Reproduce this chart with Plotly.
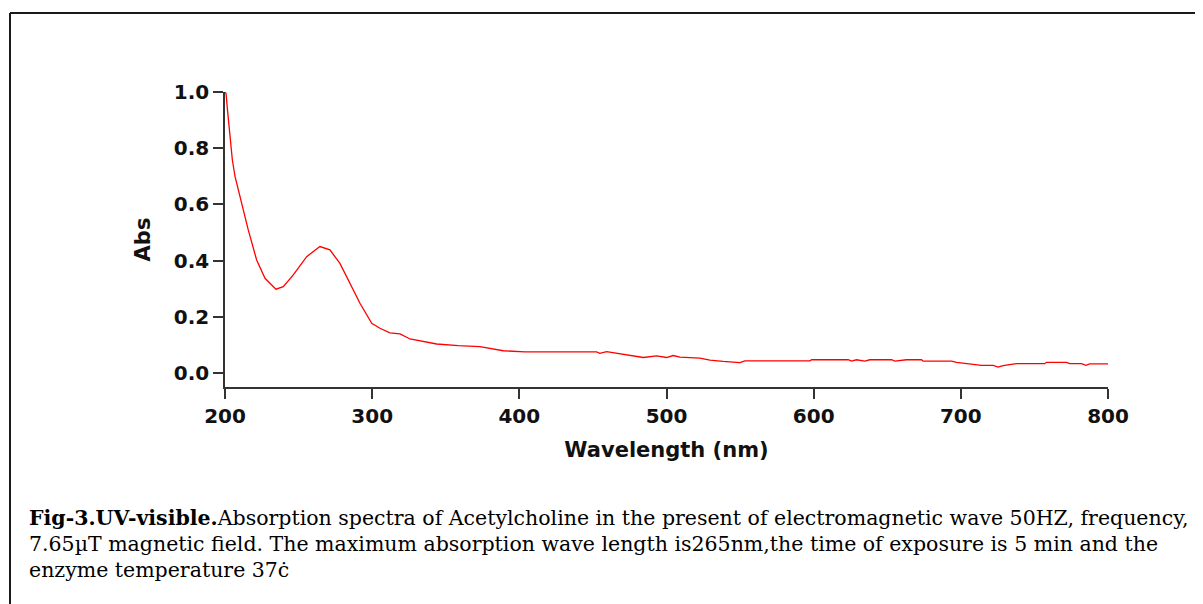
import plotly.graph_objects as go

wavelength = [200, 200.7, 201.8, 203.4, 205, 206.8, 210.2, 215.8, 221.5, 227.2, 234.6, 239.6,
              246.4, 255.5, 264.5, 271.3, 278.1, 284.9, 291.7, 299.7, 305.3, 312, 318.9, 325.7,
              334.7, 343.8, 358.5, 373.2, 389.1, 403.8, 452.5, 454.7, 459.3, 468.3, 475.1,
              484.2, 493.3, 500, 504.6, 509.1, 522.7, 529.5, 538.5, 549.9, 553.3, 577, 597.4,
              598.6, 623.5, 625.7, 629.1, 634.8, 638.2, 652.9, 655.2, 663.1, 673.3, 674.4,
              693.7, 697.1, 703.8, 714, 722, 725.3, 728.7, 737.8, 757, 758.2, 771.8, 774,
              782, 785, 787.6, 800]
absorbance = [1.0, 0.995, 0.93, 0.835, 0.758, 0.70, 0.627, 0.509, 0.402, 0.337, 0.298, 0.307,
              0.349, 0.414, 0.45, 0.438, 0.39, 0.319, 0.248, 0.177, 0.159, 0.143, 0.139, 0.121,
              0.111, 0.103, 0.097, 0.094, 0.079, 0.075, 0.075, 0.07, 0.076, 0.068, 0.061,
              0.055, 0.061, 0.055, 0.062, 0.056, 0.053, 0.046, 0.041, 0.037, 0.043, 0.043, 0.043,
              0.047, 0.047, 0.042, 0.047, 0.042, 0.047, 0.047, 0.042, 0.047, 0.047, 0.042,
              0.042, 0.038, 0.033, 0.027, 0.027, 0.021, 0.026, 0.033, 0.033, 0.038, 0.038, 0.033,
              0.033, 0.027, 0.032, 0.032]

x_ticks = [200, 300, 400, 500, 600, 700, 800]
y_ticks = [0.0, 0.2, 0.4, 0.6, 0.8, 1.0]

caption_lines = [
    "<b>Fig-3.UV-visible.</b>Absorption spectra of Acetylcholine in the present of electromagnetic wave 50HZ, frequency,",
    "7.65µT magnetic field. The maximum absorption wave length is265nm,the time of exposure is 5 min and the",
    "enzyme temperature 37ċ",
]

# page body adds an 8px offset
OFF = 8
W, H = 1203, 604
L, R, T, B = 225 - OFF, 95 + OFF, 92 - OFF, 217 + OFF
pw, ph = W - L - R, H - T - B


def px(x):
    return (x - OFF - L) / pw


def py(y):
    return (H - B - (y - OFF)) / ph


fig = go.Figure()
fig.add_trace(go.Scatter(x=wavelength, y=absorbance, mode="lines",
                         line=dict(color="#ff0000", width=1.3), showlegend=False))

axis_font = dict(family="DejaVu Sans", size=20, color="#111111", weight="bold")
title_font = dict(family="DejaVu Sans", size=21, color="#111111", weight="bold")

fig.update_xaxes(range=[200, 800], tickvals=x_ticks, ticks="outside", ticklen=10,
                 tickwidth=1.5, tickcolor="#333333", showline=True, linecolor="#333333",
                 linewidth=1.5, showgrid=False, zeroline=False,
                 tickfont=axis_font,
                 title=dict(text="Wavelength (nm)", font=title_font, standoff=16))
fig.update_yaxes(range=[-0.05, 1.0], tickvals=y_ticks, tickformat=".1f", ticks="outside",
                 ticklen=10, tickwidth=1.5, tickcolor="#333333", showline=True,
                 linecolor="#333333", linewidth=1.5, showgrid=False, zeroline=False,
                 tickfont=axis_font,
                 title=dict(text="Abs", font=title_font, standoff=17))

shapes = [
    dict(type="line", xref="paper", yref="paper", x0=px(10), x1=px(1220), y0=py(13), y1=py(13),
         line=dict(color="#1a1a1a", width=2)),
    dict(type="line", xref="paper", yref="paper", x0=px(10), x1=px(10), y0=py(13), y1=py(620),
         line=dict(color="#1a1a1a", width=2)),
]

annotations = []
for i, (line, yc) in enumerate(zip(caption_lines, [518, 544, 570])):
    annotations.append(dict(text=line, xref="paper", yref="paper", x=px(27), y=py(yc),
                            xanchor="left", yanchor="middle", showarrow=False,
                            font=dict(family="DejaVu Serif", size=20.5, color="#000000"),
                            align="left"))

fig.update_layout(width=W, height=H, margin=dict(l=L, r=R, t=T, b=B, autoexpand=False),
                  paper_bgcolor="white", plot_bgcolor="white",
                  shapes=shapes, annotations=annotations)

fig.write_html("out.html")
